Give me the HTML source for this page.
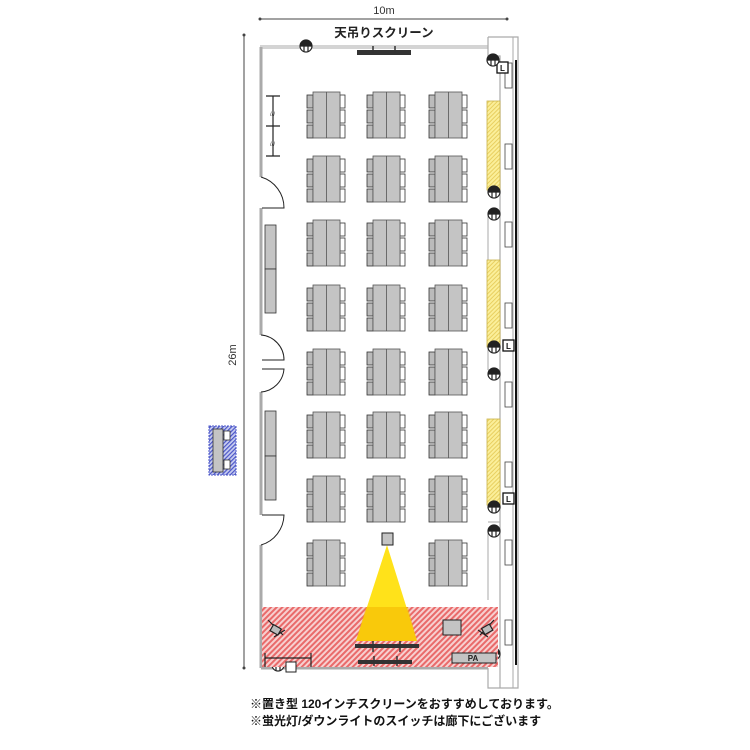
<!DOCTYPE html>
<html><head><meta charset="utf-8"><style>
html,body{margin:0;padding:0;background:#fff;}
svg{display:block;}
text{font-family:"Liberation Sans","Noto Sans CJK JP",sans-serif;}
</style></head><body>
<svg width="750" height="750" viewBox="0 0 750 750" xmlns="http://www.w3.org/2000/svg">
<defs>
<pattern id="pink" width="4" height="4" patternUnits="userSpaceOnUse" patternTransform="rotate(45)">
<rect width="4" height="4" fill="#f7d0d0"/><rect width="2" height="4" fill="#e96a6a"/></pattern>
<pattern id="yel" width="3" height="3" patternUnits="userSpaceOnUse" patternTransform="rotate(45)">
<rect width="3" height="3" fill="#fbef9a"/><rect width="1" height="3" fill="#e8cf60"/></pattern>
<pattern id="blue" width="3" height="3" patternUnits="userSpaceOnUse" patternTransform="rotate(45)">
<rect width="3" height="3" fill="#c8cdf0"/><rect width="1.2" height="3" fill="#4a55c8"/></pattern>
<g id="tg">
<rect x="0" y="3" width="6" height="13" fill="#bbb" stroke="#333" stroke-width="0.8"/>
<rect x="0" y="18" width="6" height="13" fill="#bbb" stroke="#333" stroke-width="0.8"/>
<rect x="0" y="33" width="6" height="13" fill="#bbb" stroke="#333" stroke-width="0.8"/>
<rect x="33" y="3" width="5" height="13" fill="#fff" stroke="#333" stroke-width="0.8"/>
<rect x="33" y="18" width="5" height="13" fill="#fff" stroke="#333" stroke-width="0.8"/>
<rect x="33" y="33" width="5" height="13" fill="#fff" stroke="#333" stroke-width="0.8"/>
<rect x="6" y="0" width="27" height="46" fill="#c4c4c4" stroke="#555" stroke-width="0.8"/>
<line x1="19.5" y1="0" x2="19.5" y2="46" stroke="#555" stroke-width="0.8"/>
</g>
<g id="lt"><circle r="6" fill="#fff" stroke="#222" stroke-width="1.2"/><path d="M-6 0H6M-2 0V6M2 0V6" stroke="#222" stroke-width="1.2"/><path d="M-6 0A6 6 0 0 1 6 0Z" fill="#222"/></g>
</defs>

<line x1="260" y1="19" x2="507" y2="19" stroke="#444"/>
<circle cx="260" cy="19" r="1.5" fill="#444"/><circle cx="507" cy="19" r="1.5" fill="#444"/>
<text x="384" y="14" font-size="11" text-anchor="middle" fill="#333">10m</text>
<line x1="244" y1="35" x2="244" y2="668" stroke="#444"/>
<circle cx="244" cy="35" r="1.5" fill="#444"/><circle cx="244" cy="668" r="1.5" fill="#444"/>
<text transform="translate(236,355) rotate(-90)" font-size="11" text-anchor="middle" fill="#333">26m</text>

<text x="384" y="37" font-size="12.5" font-weight="bold" text-anchor="middle" fill="#222">天吊りスクリーン</text>

<path d="M260 47H488" stroke="#aaa" stroke-width="3" fill="none"/>
<path d="M260 47H488" stroke="#fff" stroke-width="1" fill="none"/>
<path d="M261 47V177M261 208V335M261 392V515M261 545V668" stroke="#aaa" stroke-width="3"/>
<path d="M261 668H488" stroke="#aaa" stroke-width="3"/>
<path d="M488 37H518V688H488V668" fill="none" stroke="#aaa" stroke-width="1.2"/>
<path d="M488 37V56H500V688" fill="none" stroke="#aaa" stroke-width="1.2"/>
<line x1="513" y1="37" x2="513" y2="688" stroke="#aaa"/>
<line x1="516" y1="60" x2="516" y2="665" stroke="#111" stroke-width="2"/>
<path d="M488 194H500M488 370H500M488 522H500M488 216V370M488 530V600" stroke="#aaa"/>
<g fill="#fff" stroke="#444" stroke-width="0.8">
<rect x="505" y="63" width="7" height="25"/><rect x="505" y="144" width="7" height="25"/>
<rect x="505" y="222" width="7" height="25"/><rect x="505" y="303" width="7" height="25"/>
<rect x="505" y="382" width="7" height="25"/><rect x="505" y="462" width="7" height="25"/>
<rect x="505" y="540" width="7" height="25"/><rect x="505" y="620" width="7" height="25"/>
</g>
<g stroke="#111" stroke-width="1.3" fill="#fff">
<rect x="497" y="62" width="11" height="11"/><rect x="503" y="340" width="11" height="11"/><rect x="503" y="493" width="11" height="11"/>
</g>
<g font-size="8" font-weight="bold" fill="#111"><text x="500" y="71">L</text><text x="506" y="349">L</text><text x="506" y="502">L</text></g>
<g stroke="#c9b14a" stroke-width="0.8">
<rect x="487" y="101" width="13" height="89" fill="url(#yel)"/>
<rect x="487" y="260" width="13" height="87" fill="url(#yel)"/>
<rect x="487" y="419" width="13" height="86" fill="url(#yel)"/>
</g>
<use href="#lt" x="306" y="46"/><use href="#lt" x="493" y="60"/>
<use href="#lt" x="494" y="192"/><use href="#lt" x="494" y="214"/>
<use href="#lt" x="494" y="347"/><use href="#lt" x="494" y="374"/>
<use href="#lt" x="494" y="507"/><use href="#lt" x="494" y="531"/>
<use href="#lt" x="494" y="654"/><use href="#lt" x="278" y="665"/>

<rect x="357" y="50" width="54" height="5" fill="#333"/>
<path d="M373 46V53M395 46V53" stroke="#333" stroke-width="1.5"/>

<path d="M273 96V156M266 96H280M266 126H280M266 156H280" stroke="#222" stroke-width="1.2"/>
<text x="270" y="116" font-size="6" fill="#444">///</text><text x="270" y="146" font-size="6" fill="#444">///</text>

<path d="M261 177A32 32 0 0 1 284 208H262" fill="none" stroke="#222"/>
<path d="M261 335A25 25 0 0 1 284 360H262M261 392A25 25 0 0 0 284 369H262" fill="none" stroke="#222"/>
<path d="M261 545A32 32 0 0 0 284 515H262" fill="none" stroke="#222"/>

<g fill="#c4c4c4" stroke="#333" stroke-width="0.8">
<rect x="265" y="225" width="11" height="44"/><rect x="265" y="269" width="11" height="44"/>
<rect x="265" y="411" width="11" height="45"/><rect x="265" y="456" width="11" height="44"/>
</g>
<rect x="209" y="426" width="27" height="49" fill="url(#blue)" stroke="#4a55c8" stroke-dasharray="2 1"/>
<rect x="213" y="429" width="10" height="43" fill="#c4c4c4" stroke="#333" stroke-width="0.8"/>
<rect x="224" y="431" width="6" height="9" fill="#fff" stroke="#333" stroke-width="0.8"/>
<rect x="224" y="460" width="6" height="9" fill="#fff" stroke="#333" stroke-width="0.8"/>

<use href="#tg" x="307" y="92"/><use href="#tg" x="367" y="92"/><use href="#tg" x="429" y="92"/>
<use href="#tg" x="307" y="156"/><use href="#tg" x="367" y="156"/><use href="#tg" x="429" y="156"/>
<use href="#tg" x="307" y="220"/><use href="#tg" x="367" y="220"/><use href="#tg" x="429" y="220"/>
<use href="#tg" x="307" y="285"/><use href="#tg" x="367" y="285"/><use href="#tg" x="429" y="285"/>
<use href="#tg" x="307" y="349"/><use href="#tg" x="367" y="349"/><use href="#tg" x="429" y="349"/>
<use href="#tg" x="307" y="412"/><use href="#tg" x="367" y="412"/><use href="#tg" x="429" y="412"/>
<use href="#tg" x="307" y="476"/><use href="#tg" x="367" y="476"/><use href="#tg" x="429" y="476"/>
<use href="#tg" x="307" y="540"/><use href="#tg" x="429" y="540"/>

<rect x="262" y="607" width="236" height="60" fill="url(#pink)"/>
<polygon points="387,545 356,641 417,641" fill="#ffe21a"/>
<polygon points="366,607 408,607 417,641 356,641" fill="#f4b400" opacity="0.55"/>
<rect x="382" y="533" width="11" height="12" fill="#c4c4c4" stroke="#222"/>
<rect x="355" y="644" width="64" height="4" fill="#333"/>
<path d="M373 641V652M400 641V652" stroke="#333" stroke-width="1.5"/>
<rect x="358" y="660" width="54" height="4" fill="#333"/>
<path d="M374 656V666M397 656V666" stroke="#333" stroke-width="1.5"/>
<rect x="443" y="620" width="18" height="15" fill="#c4c4c4" stroke="#222"/>
<rect x="452" y="653" width="44" height="10" fill="#c4c4c4" stroke="#222"/>
<text x="473" y="661" font-size="8" font-weight="bold" text-anchor="middle" fill="#222">PA</text>
<g stroke="#222" stroke-width="1.2" fill="#bbb">
<path d="M268 620L283 635M274 637L285 630"/><rect x="271" y="626" width="9" height="7" transform="rotate(30 275 630)"/>
<path d="M494 620L480 635M488 637L478 630"/><rect x="483" y="626" width="9" height="7" transform="rotate(-30 487 630)"/>
</g>
<path d="M265 653V667M311 653V667M265 658H311" stroke="#222" stroke-width="1.2"/>
<rect x="286" y="662" width="10" height="10" fill="#fff" stroke="#222"/>

<text x="250" y="708" font-size="12" font-weight="bold" fill="#111">※置き型 120インチスクリーンをおすすめしております。</text>
<text x="250" y="725" font-size="12" font-weight="bold" fill="#111">※蛍光灯/ダウンライトのスイッチは廊下にございます</text>
</svg>
</body></html>
